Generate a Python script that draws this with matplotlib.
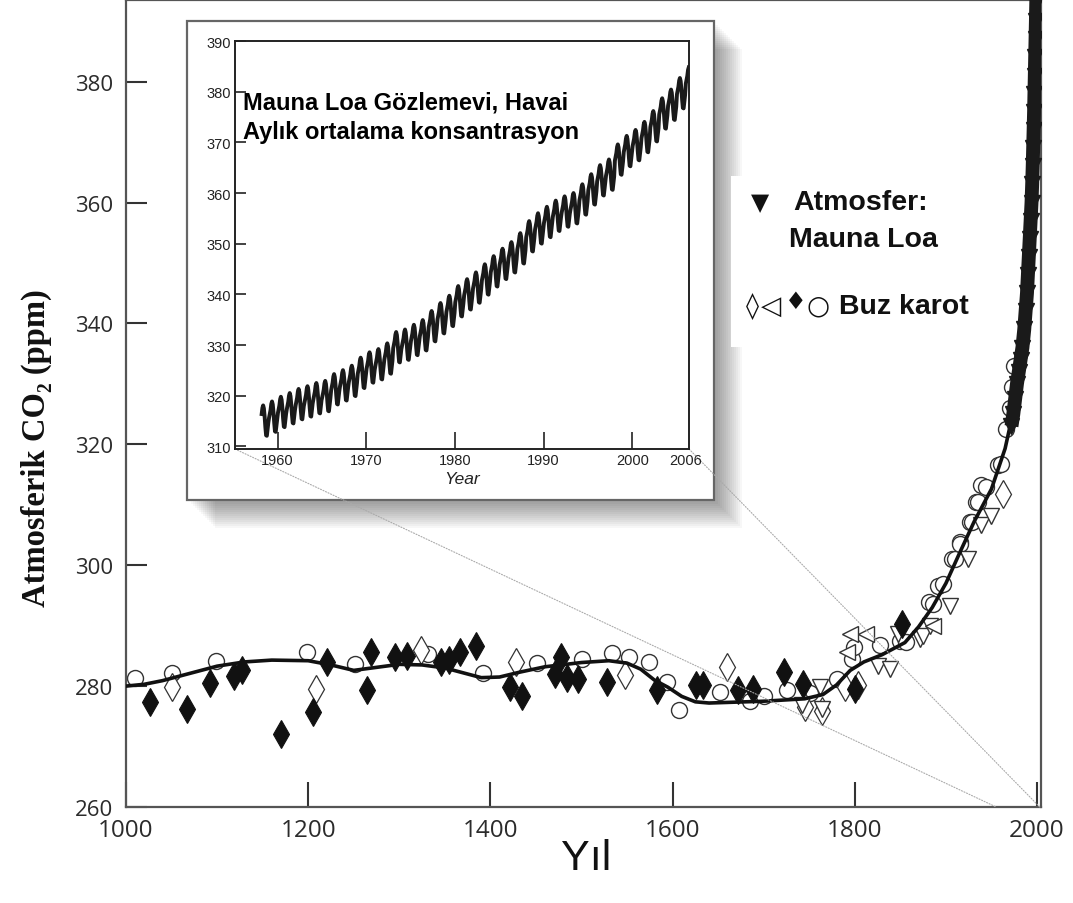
import numpy as np
import matplotlib
matplotlib.use("Agg")
import matplotlib.pyplot as plt
from matplotlib.patches import Rectangle, ConnectionPatch
from matplotlib import font_manager as fm

# ---------------- data ----------------
# smooth spline through ice-core + atmospheric record
curve_year = [1000, 1020, 1040, 1070, 1100, 1130, 1160, 1200, 1225, 1250, 1275, 1300, 1325,
              1350, 1370, 1390, 1410, 1432, 1460, 1500, 1530, 1550, 1565, 1580, 1595, 1610,
              1625, 1640, 1660, 1700, 1745, 1765, 1780, 1795, 1810, 1830, 1855, 1870, 1885, 1900,
              1915, 1931, 1950, 1965, 1977, 1984, 1990, 1994, 1997, 1999]
curve_ppm = [280.0, 280.3, 280.9, 282.1, 283.3, 284.0, 284.3, 284.2, 283.5, 282.6, 283.1, 283.6, 283.5,
             283.0, 282.2, 281.4, 281.5, 282.3, 283.2, 283.9, 284.2, 283.8, 282.8, 281.0, 279.8, 278.3,
             277.4, 277.2, 277.3, 277.5, 277.9, 278.6, 280.2, 282.6, 284.0, 285.2, 287.2, 289.8, 293.0, 297.0,
             302.0, 307.2, 312.6, 319.3, 327.5, 335.8, 346.0, 358.0, 375.0, 395.0]

# ice core: open circles
circ_year = [1010, 1050, 1099, 1199, 1251, 1331, 1392, 1451, 1501, 1533, 1552, 1574, 1594,
             1607, 1652, 1685, 1700, 1726, 1751, 1781, 1797, 1799, 1828, 1850, 1856, 1882,
             1886, 1891, 1897, 1907, 1910, 1915, 1916, 1926, 1929, 1933, 1935, 1938, 1944,
             1957, 1961, 1966, 1970, 1973, 1975]
circ_ppm = [281.3, 282.1, 284.2, 285.7, 283.7, 285.3, 282.1, 283.8, 284.5, 285.5, 284.8, 284.0, 280.6,
            276.1, 279.0, 277.6, 278.3, 279.3, 278.9, 281.2, 284.5, 286.5, 286.8, 287.5, 287.3, 293.9,
            293.6, 296.6, 296.9, 301.1, 301.1, 303.8, 303.5, 307.1, 307.1, 310.4, 310.4, 313.2, 312.9,
            316.5, 316.8, 322.5, 326.0, 329.5, 333.0]

# ice core: filled diamonds
fdia_year = [1026, 1067, 1092, 1119, 1127, 1170, 1205, 1221, 1264, 1269, 1295, 1309, 1346,
             1355, 1367, 1384, 1421, 1435, 1471, 1478, 1484, 1496, 1528, 1583, 1626, 1633,
             1672, 1688, 1722, 1743, 1800, 1852]
fdia_ppm = [277.3, 276.2, 280.5, 281.7, 282.6, 272.1, 275.7, 284.0, 279.3, 285.7, 284.8, 284.9, 284.0,
            284.4, 285.6, 286.6, 279.8, 278.3, 282.0, 284.8, 281.4, 281.2, 280.6, 279.3, 280.1, 280.1,
            279.3, 279.5, 282.3, 280.4, 279.5, 290.3]

# ice core: open diamonds
odia_year = [1050, 1209, 1324, 1428, 1548, 1660, 1745, 1764, 1789, 1804, 1963]
odia_ppm = [279.8, 279.5, 285.9, 284.0, 281.9, 283.1, 276.5, 275.9, 279.8, 280.1, 311.8]

# ice core: open down triangles
dtri_year = [1742, 1764, 1762, 1825, 1839, 1847, 1872, 1875, 1883, 1905, 1924, 1939, 1950]
dtri_ppm = [276.8, 276.2, 279.8, 283.4, 282.8, 288.6, 287.8, 288.3, 290.0, 293.3, 301.1, 306.6, 308.2]

# ice core: open left triangles
ltri_year = [1791, 1795, 1812, 1886]
ltri_ppm = [285.6, 288.6, 288.6, 290.0]

# atmosphere (Mauna Loa) filled triangles in main panel
ml_year = [1972, 1974, 1976, 1978, 1980, 1982, 1984, 1986, 1987.5, 1989, 1990, 1991, 1992,
           1993, 1994, 1994.7, 1995.3, 1995.8, 1996.3, 1996.8, 1997.2, 1997.6, 1998, 1998.4,
           1998.8, 1999.2, 1999.6]
ml_ppm = [323, 325, 327.5, 330, 332, 334, 336, 339, 342, 345, 348, 351, 354,
          357, 360, 363, 366, 369, 372, 375, 378, 381, 384, 387,
          390, 393, 396]

# inset: Mauna Loa annual means and mean seasonal cycle (monthly deviation)
inset_years = list(range(1958, 2007))
annual_mean = [315.2, 315.98, 316.91, 317.64, 318.45, 318.99, 319.62, 320.04, 321.38, 322.16,
               323.04, 324.62, 325.68, 326.32, 327.45, 329.68, 330.18, 331.11, 332.04, 333.83,
               335.40, 336.84, 338.75, 340.11, 341.45, 343.05, 344.65, 346.12, 347.42, 349.19,
               351.57, 353.12, 354.39, 355.61, 356.45, 357.10, 358.83, 360.82, 362.61, 363.73,
               366.70, 368.38, 369.55, 371.14, 373.28, 375.80, 377.52, 379.80, 381.90]
season = [-0.3, 0.4, 1.2, 2.4, 2.9, 2.3, 0.7, -1.4, -3.0, -3.1, -1.8, -0.5]

main_yticks = [260, 280, 300, 320, 340, 360, 380]
main_xticks = [1000, 1200, 1400, 1600, 1800, 2000]
inset_yticks = [310, 320, 330, 340, 350, 360, 370, 380, 390]
inset_xticks = [1960, 1970, 1980, 1990, 2000, 2006]


def has_font(name):
    try:
        fm.findfont(fm.FontProperties(family=name), fallback_to_default=False)
        return True
    except Exception:
        return False


if has_font("Liberation Sans Narrow"):
    tick_font, ytick_size, xtick_size, in_font, in_size = "Liberation Sans Narrow", 19.5, 21.5, "Liberation Sans Narrow", 12
else:
    tick_font, ytick_size, xtick_size, in_font, in_size = "Open Sans", 16, 17.5, "Liberation Sans", 10.5

# ---------------- figure ----------------
W, H = 1073, 904
fig = plt.figure(figsize=(W / 100, H / 100), dpi=100)
fig.patch.set_facecolor("white")


def fx(px):
    return px / W


def fy(py):
    return 1 - py / H


ax = fig.add_axes([fx(126), fy(808), fx(1041) - fx(126), fy(1) - fy(808)])
ax.set_xlim(1000, 2004.4)
ax.set_ylim(260, 393.5)

mk = dict(linestyle="none", zorder=2)
ax.plot(circ_year, circ_ppm, marker="o", ms=11.5, mfc="white", mec="#333333", mew=1.0, **mk)
ax.plot(odia_year, odia_ppm, marker="d", ms=14, mfc="white", mec="#333333", mew=0.9, **mk)
ax.plot(dtri_year, dtri_ppm, marker="v", ms=11, mfc="white", mec="#333333", mew=1.0, **mk)
ax.plot(ltri_year, ltri_ppm, marker="<", ms=11, mfc="white", mec="#333333", mew=1.0, **mk)
ax.plot(fdia_year, fdia_ppm, marker="d", ms=14, mfc="#111111", mec="#111111", mew=0.8, **mk)
ax.plot(curve_year, curve_ppm, color="#111111", lw=2.6, zorder=3, solid_capstyle="round",
        solid_joinstyle="round")
ax.plot(ml_year, ml_ppm, color="#1a1a1a", lw=10, zorder=4, solid_capstyle="butt")
ax.plot(ml_year, ml_ppm, marker="v", ms=12, mfc="#1a1a1a", mec="#1a1a1a", linestyle="none", zorder=4)

for s in ax.spines.values():
    s.set_color("#555555")
    s.set_linewidth(1.6)
ax.set_xticks(main_xticks)
ax.set_yticks(main_yticks)
ax.tick_params(axis="both", direction="in", color="#333333", width=1.5, labelcolor="#2b2b2b")
ax.tick_params(axis="y", length=15, pad=9, labelsize=ytick_size)
ax.tick_params(axis="x", length=18, pad=8, labelsize=xtick_size)
for lab in ax.get_xticklabels() + ax.get_yticklabels():
    lab.set_family([tick_font, "DejaVu Sans"])

fig.text(fx(36), fy(448), "Atmosferik CO\u2082 (ppm)", rotation=90, ha="center", va="center",
         fontsize=23.5, fontweight="bold", family=["Liberation Serif", "DejaVu Serif"], color="#111111")
fig.text(fx(586), fy(859), "Yıl", ha="center", va="center", fontsize=31,
         family=["Liberation Sans", "DejaVu Sans"], color="#111111")

# ---------------- inset frame with shadow ----------------
bx0, by0, bx1, by1 = 187, 22, 714, 501
for k in range(4, 30, 2):
    fig.patches.append(Rectangle((fx(bx0 + k), fy(by1 + k)), fx(bx1) - fx(bx0), fy(by0) - fy(by1),
                                 transform=fig.transFigure, facecolor="black", edgecolor="none",
                                 alpha=0.03, zorder=1))
fig.patches.append(Rectangle((fx(bx0), fy(by1)), fx(bx1) - fx(bx0), fy(by0) - fy(by1),
                             transform=fig.transFigure, facecolor="white", edgecolor="#666666",
                             lw=1.6, zorder=1.2))

# legend-like white box and text
fig.patches.append(Rectangle((fx(731), fy(348)), fx(1000) - fx(731), fy(177) - fy(348),
                             transform=fig.transFigure, facecolor="white", edgecolor="none", zorder=1.5))
lf = dict(fontsize=20.5, fontweight="bold", family=["Liberation Sans", "DejaVu Sans"], color="#111111",
          va="center", ha="left", zorder=6)
sf = dict(color="#111111", va="center", ha="left", family=["DejaVu Sans"], zorder=6)
fig.text(fx(751), fy(203), "\u25BC", fontsize=17, **sf)
fig.text(fx(793), fy(203), "Atmosfer:", **lf)
fig.text(fx(789), fy(240), "Mauna Loa", **lf)
fig.text(fx(746), fy(307), "\u25CA", fontsize=19, **sf)
fig.text(fx(761), fy(307), "\u25C1", fontsize=19, **sf)
fig.text(fx(785), fy(302), "\u2666", fontsize=17.5, **sf)
fig.text(fx(806), fy(307), "\u25CB", fontsize=19, **sf)
fig.text(fx(839), fy(307), "Buz karot", **lf)

# ---------------- inset axes ----------------
axi = fig.add_axes([fx(235), fy(450), fx(689) - fx(235), fy(42) - fy(450)], zorder=5)
t = []
v = []
for i, yr in enumerate(inset_years):
    for m in range(12):
        if yr == 1958 and m < 2:
            continue
        if yr == 2006 and m > 4:
            continue
        t.append(yr + (m + 0.5) / 12)
        v.append(annual_mean[i] + season[m])
axi.plot(t, v, color="#1a1a1a", lw=2.8)
axi.set_xlim(1955.2, 2006.4)
axi.set_ylim(309.5, 390)
axi.set_xticks(inset_xticks)
axi.set_yticks(inset_yticks)
axi.tick_params(axis="both", direction="in", color="#222222", width=1.2, labelsize=in_size,
                labelcolor="#222222")
axi.tick_params(axis="y", length=8, pad=3)
axi.tick_params(axis="x", length=12, pad=3)
axi.xaxis.get_major_ticks()[-1].tick1line.set_visible(False)
for lab in axi.get_xticklabels() + axi.get_yticklabels():
    lab.set_family([in_font, "DejaVu Sans"])
for s in axi.spines.values():
    s.set_color("#222222")
    s.set_linewidth(1.4)
axi.set_xlabel("Year", fontsize=12.5, style="italic", labelpad=3, color="#222222",
               family=["Liberation Sans", "DejaVu Sans"])
axi.text(0.018, 0.878, "Mauna Loa Gözlemevi, Havai\nAylık ortalama konsantrasyon",
         transform=axi.transAxes, ha="left", va="top", fontsize=17, fontweight="bold",
         family=["Liberation Sans", "DejaVu Sans"], color="black", linespacing=1.35)

# dotted zoom lines from inset corners to the main axis
for xa, xb in [((0, 0), (1955.2, 260)), ((1, 0), (2003.0, 260))]:
    cp = ConnectionPatch(xyA=xa, coordsA=axi.transAxes, xyB=xb, coordsB=ax.transData,
                         color="#aaaaaa", lw=0.8, linestyle=(0, (1, 1.5)), zorder=4)
    fig.add_artist(cp)

fig.savefig("out.png", dpi=100, facecolor="white")
